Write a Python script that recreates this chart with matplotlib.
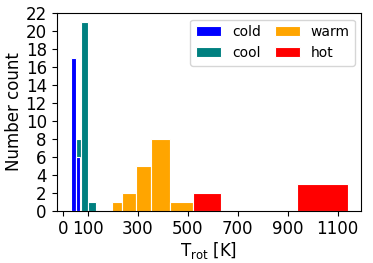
import matplotlib
matplotlib.use('Agg')
import matplotlib.pyplot as plt

# ======== Histogram data (bin edges and counts) ========
cold_edges = [31, 51, 70]
cold_counts = [17, 6]

cool_edges = [51, 72, 100, 134]
cool_counts = [8, 21, 1]

warm_edges = [198, 239, 292, 353, 431, 523]
warm_counts = [1, 2, 5, 8, 1]

hot_edges = [523, 634, 770, 937, 1141]
hot_counts = [2, 0, 0, 3]

x_ticks = [0, 100, 300, 500, 700, 900, 1100]
y_ticks = list(range(0, 23, 2))

groups = [
    ("cold", cold_edges, cold_counts, "blue", 3),
    ("cool", cool_edges, cool_counts, "teal", 2),
    ("warm", warm_edges, warm_counts, "orange", 2),
    ("hot", hot_edges, hot_counts, "red", 2),
]

fig = plt.figure(figsize=(3.73, 2.63), dpi=100)
ax = fig.add_axes([0.1515, 0.199, 0.8175, 0.750])

for name, edges, counts, color, z in groups:
    ax.hist(edges[:-1], bins=edges, weights=counts, color=color,
            edgecolor="white", linewidth=0.8, label=name, zorder=z)

ax.set_xlim(-25, 1195)
ax.set_ylim(0, 22)
ax.set_xticks(x_ticks)
ax.set_yticks(y_ticks)
ax.tick_params(labelsize=12)

ax.set_xlabel(r"T$_{\rm rot}$ [K]", fontsize=12, labelpad=1)
ax.set_ylabel("Number count", fontsize=12, labelpad=2)

ax.legend(ncol=2, loc="upper right", fontsize=10, handlelength=1.8,
          columnspacing=1.0, borderaxespad=0.45)

fig.savefig("out.png", dpi=100)
